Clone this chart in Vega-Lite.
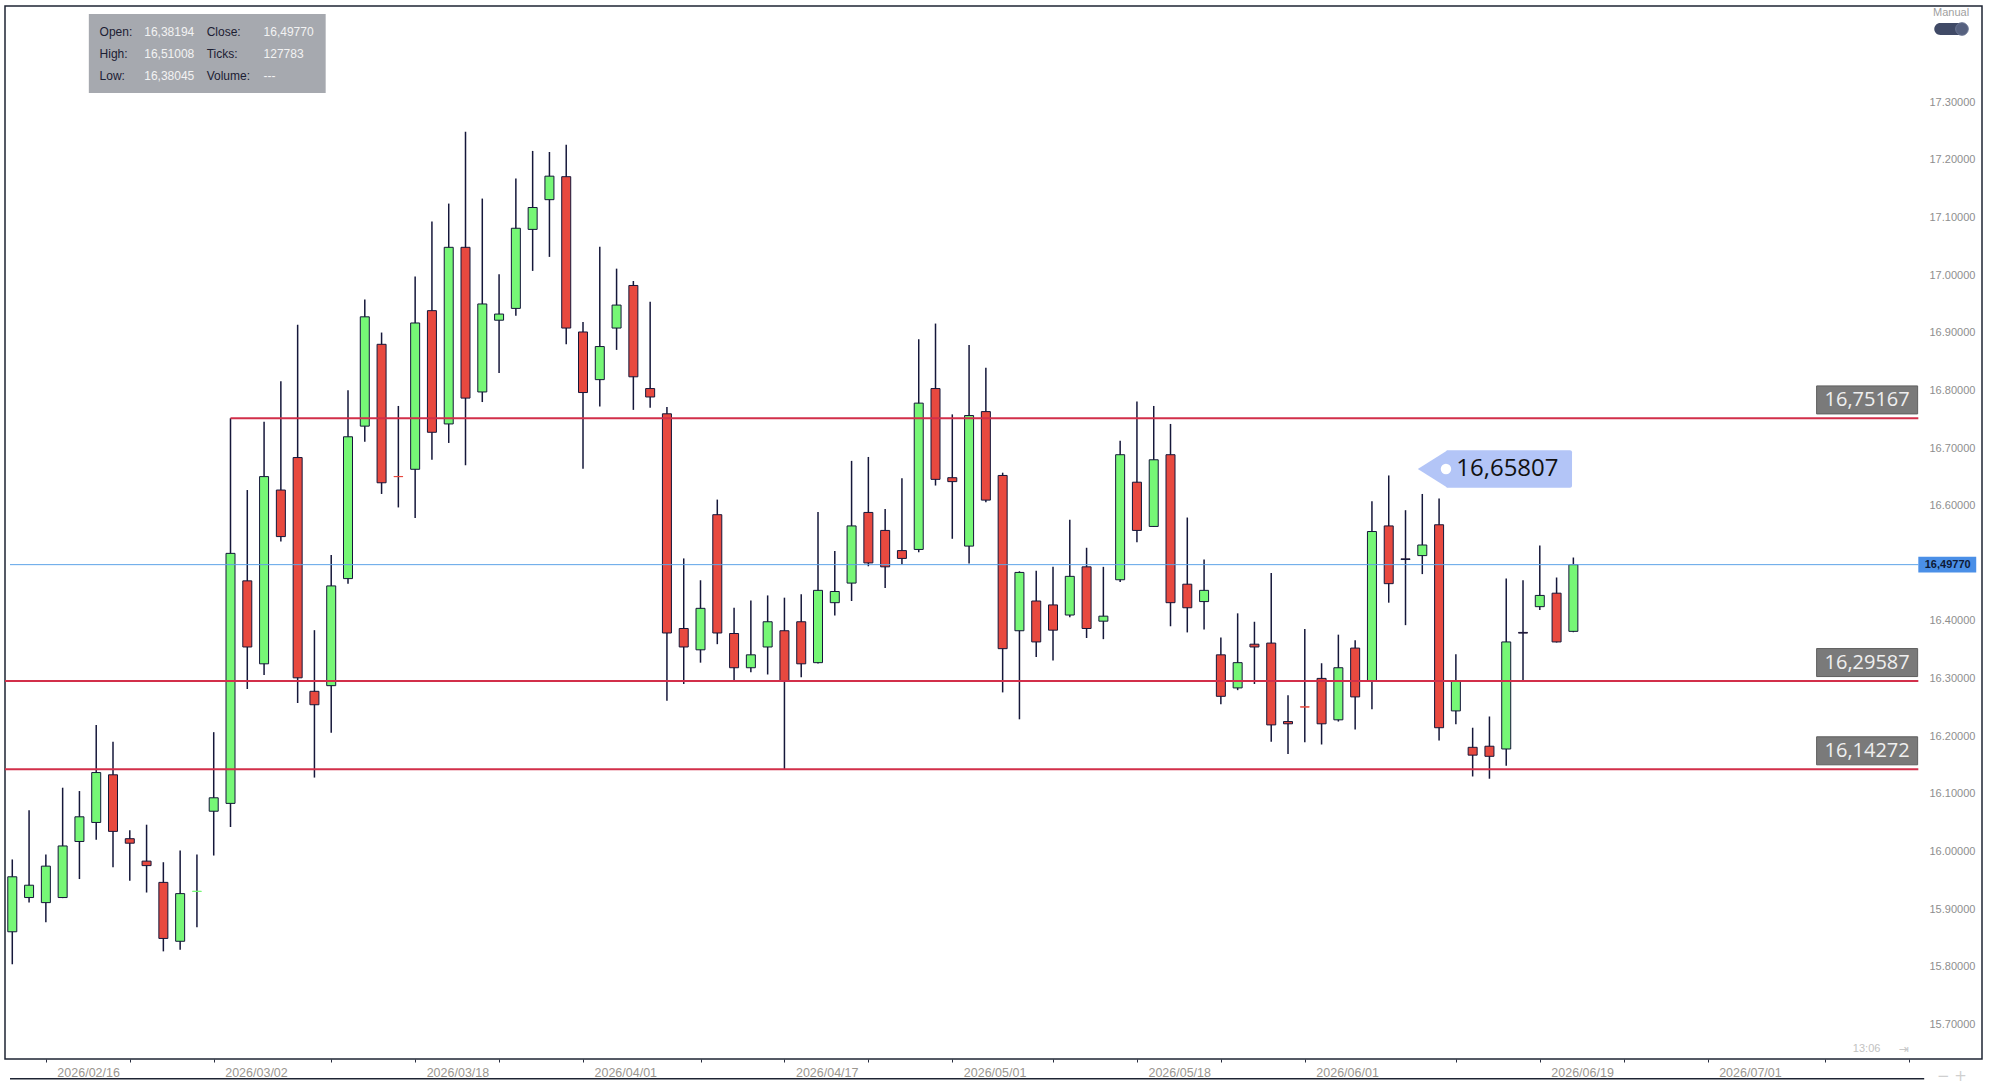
{
  "$schema": "https://vega.github.io/schema/vega-lite/v6.json",
  "width": 1977,
  "height": 1053,
  "autosize": {"type": "none"},
  "padding": {"left": 5, "top": 6, "right": 12, "bottom": 27},
  "background": "white",
  "config": {
    "view": {"stroke": "#1e2433", "strokeWidth": 1.5},
    "axis": {"grid": false}
  },
  "resolve": {"axis": {"x": "independent", "y": "independent"}},
  "datasets": {
    "candles": [
      {"i": 0, "date": "2026-02-12", "o": 15.8606, "h": 15.9861, "l": 15.8042, "c": 15.9560},
      {"i": 1, "date": "2026-02-13", "o": 15.9200, "h": 16.0717, "l": 15.9112, "c": 15.9414},
      {"i": 2, "date": "2026-02-16", "o": 15.9112, "h": 15.9949, "l": 15.8772, "c": 15.9745},
      {"i": 3, "date": "2026-02-17", "o": 15.9200, "h": 16.1106, "l": 15.9190, "c": 16.0095},
      {"i": 4, "date": "2026-02-18", "o": 16.0173, "h": 16.1048, "l": 15.9521, "c": 16.0601},
      {"i": 5, "date": "2026-02-19", "o": 16.0503, "h": 16.2196, "l": 16.0202, "c": 16.1369},
      {"i": 6, "date": "2026-02-20", "o": 16.1330, "h": 16.1904, "l": 15.9725, "c": 16.0348},
      {"i": 7, "date": "2026-02-23", "o": 16.0221, "h": 16.0367, "l": 15.9492, "c": 16.0143},
      {"i": 8, "date": "2026-02-24", "o": 15.9832, "h": 16.0464, "l": 15.9287, "c": 15.9754},
      {"i": 9, "date": "2026-02-25", "o": 15.9463, "h": 15.9813, "l": 15.8266, "c": 15.8490},
      {"i": 10, "date": "2026-02-26", "o": 15.8441, "h": 16.0017, "l": 15.8295, "c": 15.9268},
      {"i": 11, "date": "2026-02-27", "o": 15.9306, "h": 15.9949, "l": 15.8684, "c": 15.9309},
      {"i": 12, "date": "2026-03-02", "o": 16.0698, "h": 16.2070, "l": 15.9929, "c": 16.0931},
      {"i": 13, "date": "2026-03-03", "o": 16.0834, "h": 16.7517, "l": 16.0426, "c": 16.5173},
      {"i": 14, "date": "2026-03-04", "o": 16.4696, "h": 16.6272, "l": 16.2819, "c": 16.3548},
      {"i": 15, "date": "2026-03-05", "o": 16.3256, "h": 16.7458, "l": 16.3062, "c": 16.6505},
      {"i": 16, "date": "2026-03-06", "o": 16.6272, "h": 16.8159, "l": 16.5377, "c": 16.5464},
      {"i": 17, "date": "2026-03-09", "o": 16.6836, "h": 16.9141, "l": 16.2575, "c": 16.3013},
      {"i": 18, "date": "2026-03-10", "o": 16.2779, "h": 16.3840, "l": 16.1282, "c": 16.2546},
      {"i": 19, "date": "2026-03-11", "o": 16.2877, "h": 16.5143, "l": 16.2060, "c": 16.4608},
      {"i": 20, "date": "2026-03-12", "o": 16.4735, "h": 16.8003, "l": 16.4647, "c": 16.7196},
      {"i": 21, "date": "2026-03-13", "o": 16.7381, "h": 16.9579, "l": 16.7108, "c": 16.9278},
      {"i": 22, "date": "2026-03-16", "o": 16.8801, "h": 16.9005, "l": 16.6204, "c": 16.6398},
      {"i": 23, "date": "2026-03-17", "o": 16.6507, "h": 16.7731, "l": 16.5970, "c": 16.6504},
      {"i": 24, "date": "2026-03-18", "o": 16.6632, "h": 16.9978, "l": 16.5785, "c": 16.9171},
      {"i": 25, "date": "2026-03-19", "o": 16.9385, "h": 17.0931, "l": 16.6797, "c": 16.7274},
      {"i": 26, "date": "2026-03-20", "o": 16.7419, "h": 17.1243, "l": 16.7089, "c": 17.0484},
      {"i": 27, "date": "2026-03-23", "o": 17.0484, "h": 17.2488, "l": 16.6700, "c": 16.7867},
      {"i": 28, "date": "2026-03-24", "o": 16.7974, "h": 17.1330, "l": 16.7799, "c": 16.9501},
      {"i": 29, "date": "2026-03-25", "o": 16.9219, "h": 17.0017, "l": 16.8305, "c": 16.9326},
      {"i": 30, "date": "2026-03-26", "o": 16.9424, "h": 17.1680, "l": 16.9297, "c": 17.0815},
      {"i": 31, "date": "2026-03-27", "o": 17.0795, "h": 17.2157, "l": 17.0075, "c": 17.1175},
      {"i": 32, "date": "2026-03-30", "o": 17.1311, "h": 17.2138, "l": 17.0318, "c": 17.1719},
      {"i": 33, "date": "2026-03-31", "o": 17.1710, "h": 17.2264, "l": 16.8801, "c": 16.9083},
      {"i": 34, "date": "2026-04-01", "o": 16.9015, "h": 16.9190, "l": 16.6641, "c": 16.7964},
      {"i": 35, "date": "2026-04-02", "o": 16.8188, "h": 17.0494, "l": 16.7721, "c": 16.8762},
      {"i": 36, "date": "2026-04-03", "o": 16.9083, "h": 17.0114, "l": 16.8704, "c": 16.9482},
      {"i": 37, "date": "2026-04-06", "o": 16.9822, "h": 16.9900, "l": 16.7663, "c": 16.8237},
      {"i": 38, "date": "2026-04-07", "o": 16.8033, "h": 16.9540, "l": 16.7702, "c": 16.7887},
      {"i": 39, "date": "2026-04-08", "o": 16.7595, "h": 16.7711, "l": 16.2614, "c": 16.3791},
      {"i": 40, "date": "2026-04-09", "o": 16.3869, "h": 16.5085, "l": 16.2906, "c": 16.3548},
      {"i": 41, "date": "2026-04-10", "o": 16.3499, "h": 16.4706, "l": 16.3276, "c": 16.4219},
      {"i": 42, "date": "2026-04-13", "o": 16.5844, "h": 16.6106, "l": 16.3597, "c": 16.3791},
      {"i": 43, "date": "2026-04-14", "o": 16.3782, "h": 16.4229, "l": 16.2955, "c": 16.3188},
      {"i": 44, "date": "2026-04-15", "o": 16.3188, "h": 16.4356, "l": 16.3110, "c": 16.3412},
      {"i": 45, "date": "2026-04-16", "o": 16.3548, "h": 16.4443, "l": 16.3071, "c": 16.3986},
      {"i": 46, "date": "2026-04-17", "o": 16.3830, "h": 16.4404, "l": 16.1427, "c": 16.2955},
      {"i": 47, "date": "2026-04-20", "o": 16.3986, "h": 16.4463, "l": 16.3023, "c": 16.3256},
      {"i": 48, "date": "2026-04-21", "o": 16.3276, "h": 16.5892, "l": 16.3262, "c": 16.4531},
      {"i": 49, "date": "2026-04-22", "o": 16.4317, "h": 16.5212, "l": 16.4093, "c": 16.4511},
      {"i": 50, "date": "2026-04-23", "o": 16.4657, "h": 16.6778, "l": 16.4346, "c": 16.5649},
      {"i": 51, "date": "2026-04-24", "o": 16.5883, "h": 16.6846, "l": 16.4949, "c": 16.5007},
      {"i": 52, "date": "2026-04-27", "o": 16.5571, "h": 16.5941, "l": 16.4570, "c": 16.4939},
      {"i": 53, "date": "2026-04-28", "o": 16.5221, "h": 16.6476, "l": 16.4978, "c": 16.5085},
      {"i": 54, "date": "2026-04-29", "o": 16.5241, "h": 16.8889, "l": 16.5192, "c": 16.7780},
      {"i": 55, "date": "2026-04-30", "o": 16.8033, "h": 16.9161, "l": 16.6350, "c": 16.6457},
      {"i": 56, "date": "2026-05-01", "o": 16.6486, "h": 16.7585, "l": 16.5426, "c": 16.6418},
      {"i": 57, "date": "2026-05-04", "o": 16.5299, "h": 16.8791, "l": 16.4998, "c": 16.7565},
      {"i": 58, "date": "2026-05-05", "o": 16.7633, "h": 16.8392, "l": 16.6058, "c": 16.6097},
      {"i": 59, "date": "2026-05-06", "o": 16.6525, "h": 16.6573, "l": 16.2760, "c": 16.3519},
      {"i": 60, "date": "2026-05-07", "o": 16.3830, "h": 16.4862, "l": 16.2293, "c": 16.4842},
      {"i": 61, "date": "2026-05-08", "o": 16.4346, "h": 16.4871, "l": 16.3373, "c": 16.3636},
      {"i": 62, "date": "2026-05-11", "o": 16.4278, "h": 16.4939, "l": 16.3315, "c": 16.3840},
      {"i": 63, "date": "2026-05-12", "o": 16.4103, "h": 16.5756, "l": 16.4064, "c": 16.4774},
      {"i": 64, "date": "2026-05-13", "o": 16.4939, "h": 16.5270, "l": 16.3704, "c": 16.3869},
      {"i": 65, "date": "2026-05-14", "o": 16.3996, "h": 16.4939, "l": 16.3684, "c": 16.4083},
      {"i": 66, "date": "2026-05-15", "o": 16.4715, "h": 16.7128, "l": 16.4677, "c": 16.6885},
      {"i": 67, "date": "2026-05-18", "o": 16.6408, "h": 16.7809, "l": 16.5367, "c": 16.5571},
      {"i": 68, "date": "2026-05-19", "o": 16.5640, "h": 16.7731, "l": 16.5630, "c": 16.6797},
      {"i": 69, "date": "2026-05-20", "o": 16.6885, "h": 16.7419, "l": 16.3908, "c": 16.4317},
      {"i": 70, "date": "2026-05-21", "o": 16.4638, "h": 16.5795, "l": 16.3801, "c": 16.4229},
      {"i": 71, "date": "2026-05-22", "o": 16.4336, "h": 16.5066, "l": 16.3850, "c": 16.4531},
      {"i": 72, "date": "2026-05-25", "o": 16.3412, "h": 16.3713, "l": 16.2556, "c": 16.2692},
      {"i": 73, "date": "2026-05-26", "o": 16.2838, "h": 16.4132, "l": 16.2799, "c": 16.3276},
      {"i": 74, "date": "2026-05-27", "o": 16.3597, "h": 16.3986, "l": 16.2906, "c": 16.3548},
      {"i": 75, "date": "2026-05-28", "o": 16.3616, "h": 16.4832, "l": 16.1904, "c": 16.2196},
      {"i": 76, "date": "2026-05-29", "o": 16.2254, "h": 16.2712, "l": 16.1690, "c": 16.2215},
      {"i": 77, "date": "2026-06-01", "o": 16.2509, "h": 16.3859, "l": 16.1894, "c": 16.2506},
      {"i": 78, "date": "2026-06-02", "o": 16.3003, "h": 16.3266, "l": 16.1856, "c": 16.2215},
      {"i": 79, "date": "2026-06-03", "o": 16.2284, "h": 16.3762, "l": 16.2254, "c": 16.3188},
      {"i": 80, "date": "2026-06-04", "o": 16.3529, "h": 16.3665, "l": 16.2118, "c": 16.2682},
      {"i": 81, "date": "2026-06-05", "o": 16.2964, "h": 16.6077, "l": 16.2468, "c": 16.5552},
      {"i": 82, "date": "2026-06-08", "o": 16.5649, "h": 16.6525, "l": 16.4317, "c": 16.4647},
      {"i": 83, "date": "2026-06-09", "o": 16.5078, "h": 16.5922, "l": 16.3927, "c": 16.5066},
      {"i": 84, "date": "2026-06-10", "o": 16.5134, "h": 16.6204, "l": 16.4813, "c": 16.5318},
      {"i": 85, "date": "2026-06-11", "o": 16.5669, "h": 16.6126, "l": 16.1924, "c": 16.2147},
      {"i": 86, "date": "2026-06-12", "o": 16.2439, "h": 16.3422, "l": 16.2206, "c": 16.2955},
      {"i": 87, "date": "2026-06-15", "o": 16.1807, "h": 16.2147, "l": 16.1301, "c": 16.1671},
      {"i": 88, "date": "2026-06-16", "o": 16.1826, "h": 16.2342, "l": 16.1262, "c": 16.1651},
      {"i": 89, "date": "2026-06-17", "o": 16.1778, "h": 16.4735, "l": 16.1486, "c": 16.3636},
      {"i": 90, "date": "2026-06-18", "o": 16.3801, "h": 16.4706, "l": 16.2974, "c": 16.3789},
      {"i": 91, "date": "2026-06-19", "o": 16.4248, "h": 16.5309, "l": 16.4190, "c": 16.4443},
      {"i": 92, "date": "2026-06-22", "o": 16.4482, "h": 16.4754, "l": 16.3626, "c": 16.3636},
      {"i": 93, "date": "2026-06-23", "o": 16.38194, "h": 16.51008, "l": 16.38045, "c": 16.49770}
    ],
    "levels": [
      {"p": 16.75167, "start": 13, "label": "16,75167"},
      {"p": 16.29587, "start": -1, "label": "16,29587"},
      {"p": 16.14272, "start": -1, "label": "16,14272"}
    ]
  },
  "layer": [
    {
      "data": {"name": "candles"},
      "mark": {"type": "rule", "color": "#15173a", "strokeWidth": 1.5, "clip": true},
      "encoding": {
        "x": {"field": "i", "type": "quantitative",
          "scale": {"domain": [-0.1363, 117.046], "nice": false, "zero": false},
          "axis": {
            "orient": "bottom", "values": [2,7,12,19,24,29,34,41,46,51,56,62,67,72,77,86,91,96,101,108,113],
            "labelExpr": "datum.value==2?'2026/02/16':datum.value==12?'2026/03/02':datum.value==24?'2026/03/18':datum.value==34?'2026/04/01':datum.value==46?'2026/04/17':datum.value==56?'2026/05/01':datum.value==67?'2026/05/18':datum.value==77?'2026/06/01':datum.value==91?'2026/06/19':datum.value==101?'2026/07/01':''",
            "domain": false, "ticks": true, "tickSize": 3, "tickColor": "#2a2f40", "tickWidth": 1,
            "labelAlign": "left", "labelOffset": 11, "labelPadding": 4,
            "labelFont": "Liberation Sans", "labelFontSize": 12.5, "labelColor": "#9a968f",
            "labelOverlap": false, "labelFlush": false, "labelBound": false, "title": null, "zindex": 2
          }
        },
        "y": {"field": "h", "type": "quantitative",
          "scale": {"domain": [15.6398, 17.4672], "nice": false, "zero": false},
          "axis": {
            "orient": "right", "offset": -59,
            "values": [15.7,15.8,15.9,16.0,16.1,16.2,16.3,16.4,16.6,16.7,16.8,16.9,17.0,17.1,17.2,17.3],
            "format": ".5f", "domain": false, "ticks": false, "tickSize": 0, "labelPadding": 6,
            "labelFont": "Liberation Sans", "labelFontSize": 11, "labelColor": "#8e8e8e",
            "labelAlign": "left", "labelBaseline": "middle", "labelOverlap": false, "labelFlush": false, "title": null, "zindex": 2
          }
        },
        "y2": {"field": "l"}
      }
    },
    {
      "data": {"name": "candles"},
      "mark": {"type": "bar", "size": 9, "strokeWidth": 1, "clip": true},
      "encoding": {
        "x": {"field": "i", "type": "quantitative", "scale": {"domain": [-0.1363, 117.046], "nice": false, "zero": false}, "axis": null},
        "y": {"field": "o", "type": "quantitative", "scale": {"domain": [15.6398, 17.4672], "nice": false, "zero": false}, "axis": null},
        "y2": {"field": "c"},
        "fill": {"condition": {"test": "datum.c >= datum.o", "value": "#76f776"}, "value": "#e8493f"},
        "stroke": {"condition": [
          {"test": "abs(datum.c - datum.o) < 0.0008 && datum.c >= datum.o", "value": "#76f776"},
          {"test": "abs(datum.c - datum.o) < 0.0008", "value": "#e8493f"}
        ], "value": "#15173a"}
      }
    },
    {
      "data": {"values": [{}]},
      "mark": {"type": "rule", "color": "#5ea3e8", "strokeWidth": 1},
      "encoding": {
        "x": {"datum": -0.1363, "type": "quantitative", "scale": {"domain": [-0.1363, 117.046], "nice": false, "zero": false}, "axis": null},
        "x2": {"datum": 113.55},
        "y": {"datum": 16.4977, "type": "quantitative", "scale": {"domain": [15.6398, 17.4672], "nice": false, "zero": false}, "axis": null}
      }
    },
    {
      "data": {"name": "levels"},
      "mark": {"type": "rule", "color": "#d22f4a", "strokeWidth": 2, "clip": true},
      "encoding": {
        "x": {"field": "start", "type": "quantitative", "scale": {"domain": [-0.1363, 117.046], "nice": false, "zero": false}, "axis": null},
        "x2": {"datum": 113.55},
        "y": {"field": "p", "type": "quantitative", "scale": {"domain": [15.6398, 17.4672], "nice": false, "zero": false}, "axis": null}
      }
    },
    {
      "data": {"name": "levels"},
      "mark": {"type": "point", "shape": "M -1.804 -0.5 L 1.804 -0.5 L 1.804 0.5 L -1.804 0.5 Z", "size": 3136, "filled": true, "fill": "#7a7a7a", "stroke": "#5f5f5f", "strokeWidth": 1, "opacity": 1, "yOffset": -18.4},
      "encoding": {
        "x": {"datum": 110.5, "type": "quantitative", "scale": {"domain": [-0.1363, 117.046], "nice": false, "zero": false}, "axis": null},
        "y": {"field": "p", "type": "quantitative", "scale": {"domain": [15.6398, 17.4672], "nice": false, "zero": false}, "axis": null}
      }
    },
    {
      "data": {"name": "levels"},
      "mark": {"type": "text", "font": "Open Sans", "fontSize": 20, "fill": "#efefef", "align": "center", "baseline": "middle", "dy": -18.4},
      "encoding": {
        "x": {"datum": 110.5, "type": "quantitative", "scale": {"domain": [-0.1363, 117.046], "nice": false, "zero": false}, "axis": null},
        "y": {"field": "p", "type": "quantitative", "scale": {"domain": [15.6398, 17.4672], "nice": false, "zero": false}, "axis": null},
        "text": {"field": "label"}
      }
    },
    {
      "data": {"values": [{}]},
      "mark": {"type": "rect", "fill": "#4a8fe7"},
      "encoding": {
        "x": {"datum": 113.55, "type": "quantitative", "scale": {"domain": [-0.1363, 117.046], "nice": false, "zero": false}, "axis": null},
        "x2": {"datum": 117.0},
        "y": {"datum": 16.5112, "type": "quantitative", "scale": {"domain": [15.6398, 17.4672], "nice": false, "zero": false}, "axis": null},
        "y2": {"datum": 16.4842}
      }
    },
    {
      "data": {"values": [{}]},
      "mark": {"type": "text", "text": "16,49770", "font": "Liberation Sans", "fontSize": 11, "fontWeight": "bold", "fill": "#0e1a36", "align": "center", "baseline": "middle"},
      "encoding": {
        "x": {"datum": 115.3, "type": "quantitative", "scale": {"domain": [-0.1363, 117.046], "nice": false, "zero": false}, "axis": null},
        "y": {"datum": 16.4977, "type": "quantitative", "scale": {"domain": [15.6398, 17.4672], "nice": false, "zero": false}, "axis": null}
      }
    },
    {
      "data": {"values": [{}]},
      "mark": {"type": "point", "shape": "M 1.1 -1 L -0.49 0 L 1.1 1 Z", "size": 1406, "filled": true, "fill": "#b3c5f7", "strokeWidth": 0, "opacity": 1},
      "encoding": {
        "x": {"datum": 84.28, "type": "quantitative", "scale": {"domain": [-0.1363, 117.046], "nice": false, "zero": false}, "axis": null},
        "y": {"datum": 16.6636, "type": "quantitative", "scale": {"domain": [15.6398, 17.4672], "nice": false, "zero": false}, "axis": null}
      }
    },
    {
      "data": {"values": [{}]},
      "mark": {"type": "rect", "fill": "#b3c5f7", "cornerRadius": 2},
      "encoding": {
        "x": {"datum": 85.40, "type": "quantitative", "scale": {"domain": [-0.1363, 117.046], "nice": false, "zero": false}, "axis": null},
        "x2": {"datum": 92.92},
        "y": {"datum": 16.6962, "type": "quantitative", "scale": {"domain": [15.6398, 17.4672], "nice": false, "zero": false}, "axis": null},
        "y2": {"datum": 16.6311}
      }
    },
    {
      "data": {"values": [{}]},
      "mark": {"type": "point", "shape": "circle", "size": 110, "filled": true, "fill": "#ffffff", "strokeWidth": 0, "opacity": 1},
      "encoding": {
        "x": {"datum": 85.41, "type": "quantitative", "scale": {"domain": [-0.1363, 117.046], "nice": false, "zero": false}, "axis": null},
        "y": {"datum": 16.6636, "type": "quantitative", "scale": {"domain": [15.6398, 17.4672], "nice": false, "zero": false}, "axis": null}
      }
    },
    {
      "data": {"values": [{}]},
      "mark": {"type": "text", "text": "16,65807", "font": "Open Sans", "fontSize": 24, "fill": "#111111", "align": "center", "baseline": "middle"},
      "encoding": {
        "x": {"datum": 89.07, "type": "quantitative", "scale": {"domain": [-0.1363, 117.046], "nice": false, "zero": false}, "axis": null},
        "y": {"datum": 16.6636, "type": "quantitative", "scale": {"domain": [15.6398, 17.4672], "nice": false, "zero": false}, "axis": null}
      }
    },
    {
      "data": {"values": [{}]},
      "mark": {"type": "rect", "fill": "#a6a9af"},
      "encoding": {
        "x": {"datum": 4.56, "type": "quantitative", "scale": {"domain": [-0.1363, 117.046], "nice": false, "zero": false}, "axis": null},
        "x2": {"datum": 18.67},
        "y": {"datum": 17.4533, "type": "quantitative", "scale": {"domain": [15.6398, 17.4672], "nice": false, "zero": false}, "axis": null},
        "y2": {"datum": 17.3162}
      }
    },
    {
      "data": {"values": [{}]},
      "mark": {"type": "text", "text": ["Open:", "High:", "Low:"], "lineHeight": 22.2, "font": "Liberation Sans", "fontSize": 12, "fill": "#1c2033", "align": "left", "baseline": "middle"},
      "encoding": {
        "x": {"datum": 5.2, "type": "quantitative", "scale": {"domain": [-0.1363, 117.046], "nice": false, "zero": false}, "axis": null},
        "y": {"datum": 17.4226, "type": "quantitative", "scale": {"domain": [15.6398, 17.4672], "nice": false, "zero": false}, "axis": null}
      }
    },
    {
      "data": {"values": [{}]},
      "mark": {"type": "text", "text": ["16,38194", "16,51008", "16,38045"], "lineHeight": 22.2, "font": "Liberation Sans", "fontSize": 12, "fill": "#f3f3f3", "align": "left", "baseline": "middle"},
      "encoding": {
        "x": {"datum": 7.86, "type": "quantitative", "scale": {"domain": [-0.1363, 117.046], "nice": false, "zero": false}, "axis": null},
        "y": {"datum": 17.4226, "type": "quantitative", "scale": {"domain": [15.6398, 17.4672], "nice": false, "zero": false}, "axis": null}
      }
    },
    {
      "data": {"values": [{}]},
      "mark": {"type": "text", "text": ["Close:", "Ticks:", "Volume:"], "lineHeight": 22.2, "font": "Liberation Sans", "fontSize": 12, "fill": "#1c2033", "align": "left", "baseline": "middle"},
      "encoding": {
        "x": {"datum": 11.58, "type": "quantitative", "scale": {"domain": [-0.1363, 117.046], "nice": false, "zero": false}, "axis": null},
        "y": {"datum": 17.4226, "type": "quantitative", "scale": {"domain": [15.6398, 17.4672], "nice": false, "zero": false}, "axis": null}
      }
    },
    {
      "data": {"values": [{}]},
      "mark": {"type": "text", "text": ["16,49770", "127783", "---"], "lineHeight": 22.2, "font": "Liberation Sans", "fontSize": 12, "fill": "#f3f3f3", "align": "left", "baseline": "middle"},
      "encoding": {
        "x": {"datum": 14.97, "type": "quantitative", "scale": {"domain": [-0.1363, 117.046], "nice": false, "zero": false}, "axis": null},
        "y": {"datum": 17.4226, "type": "quantitative", "scale": {"domain": [15.6398, 17.4672], "nice": false, "zero": false}, "axis": null}
      }
    },
    {
      "data": {"values": [{}]},
      "mark": {"type": "text", "text": "Manual", "font": "Liberation Sans", "fontSize": 11, "fill": "#9f9f9f", "align": "center", "baseline": "middle"},
      "encoding": {
        "x": {"datum": 115.5, "type": "quantitative", "scale": {"domain": [-0.1363, 117.046], "nice": false, "zero": false}, "axis": null},
        "y": {"datum": 17.4555, "type": "quantitative", "scale": {"domain": [15.6398, 17.4672], "nice": false, "zero": false}, "axis": null}
      }
    },
    {
      "data": {"values": [{}]},
      "mark": {"type": "rect", "fill": "#404a66", "cornerRadius": 6},
      "encoding": {
        "x": {"datum": 114.5, "type": "quantitative", "scale": {"domain": [-0.1363, 117.046], "nice": false, "zero": false}, "axis": null},
        "x2": {"datum": 116.5},
        "y": {"datum": 17.4377, "type": "quantitative", "scale": {"domain": [15.6398, 17.4672], "nice": false, "zero": false}, "axis": null},
        "y2": {"datum": 17.4169}
      }
    },
    {
      "data": {"values": [{}]},
      "mark": {"type": "point", "shape": "circle", "size": 160, "filled": true, "fill": "#56617f", "stroke": "#6b7694", "strokeWidth": 1, "opacity": 1},
      "encoding": {
        "x": {"datum": 116.15, "type": "quantitative", "scale": {"domain": [-0.1363, 117.046], "nice": false, "zero": false}, "axis": null},
        "y": {"datum": 17.4273, "type": "quantitative", "scale": {"domain": [15.6398, 17.4672], "nice": false, "zero": false}, "axis": null}
      }
    },
    {
      "data": {"values": [{}]},
      "mark": {"type": "text", "text": "13:06", "font": "Liberation Sans", "fontSize": 11, "fill": "#c2c2c2", "align": "center", "baseline": "middle"},
      "encoding": {
        "x": {"datum": 110.47, "type": "quantitative", "scale": {"domain": [-0.1363, 117.046], "nice": false, "zero": false}, "axis": null},
        "y": {"datum": 15.6577, "type": "quantitative", "scale": {"domain": [15.6398, 17.4672], "nice": false, "zero": false}, "axis": null}
      }
    },
    {
      "data": {"values": [{}]},
      "mark": {"type": "text", "text": "⇥", "font": "DejaVu Sans", "fontSize": 12, "fill": "#c8c8c8", "align": "center", "baseline": "middle"},
      "encoding": {
        "x": {"datum": 112.7, "type": "quantitative", "scale": {"domain": [-0.1363, 117.046], "nice": false, "zero": false}, "axis": null},
        "y": {"datum": 15.6577, "type": "quantitative", "scale": {"domain": [15.6398, 17.4672], "nice": false, "zero": false}, "axis": null}
      }
    },
    {
      "data": {"values": [{}]},
      "mark": {"type": "text", "text": "−   +", "font": "DejaVu Sans", "fontSize": 15, "fill": "#cfcfcf", "align": "center", "baseline": "middle"},
      "encoding": {
        "x": {"datum": 115.55, "type": "quantitative", "scale": {"domain": [-0.1363, 117.046], "nice": false, "zero": false}, "axis": null},
        "y": {"datum": 15.6108, "type": "quantitative", "scale": {"domain": [15.6398, 17.4672], "nice": false, "zero": false}, "axis": null}
      }
    },
    {
      "data": {"values": [{}]},
      "mark": {"type": "rule", "color": "#1e2433", "strokeWidth": 1.5},
      "encoding": {
        "x": {"datum": -0.1363, "type": "quantitative", "scale": {"domain": [-0.1363, 117.046], "nice": false, "zero": false}, "axis": null},
        "x2": {"datum": 113.9},
        "y": {"datum": 15.6056, "type": "quantitative", "scale": {"domain": [15.6398, 17.4672], "nice": false, "zero": false}, "axis": null}
      }
    }
  ]
}
